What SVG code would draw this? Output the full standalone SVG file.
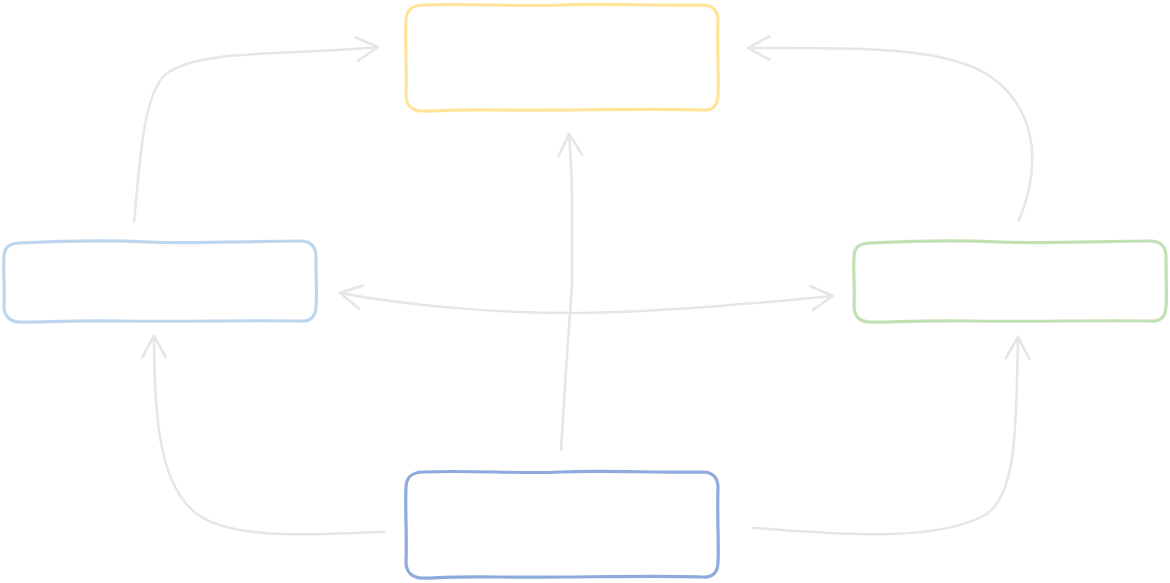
<svg xmlns="http://www.w3.org/2000/svg" width="1170" height="583" viewBox="0 0 1170 583">
  <style>
    .box { fill: #ffffff; stroke-width: 3.2; stroke-linejoin: round; }
    .edge { fill: none; stroke: #e6e6e6; stroke-width: 2.5; stroke-linecap: round; }
  </style>
  <defs>
    <marker id="open" markerUnits="userSpaceOnUse" markerWidth="30" markerHeight="30" viewBox="-24 -14 28 28" refX="0" refY="0" orient="auto-start-reverse">
      <path d="M -20 -11 L 0 0 L -20 11" fill="none" stroke="#e6e6e6" stroke-width="2.5" stroke-linecap="round" stroke-linejoin="round"/>
    </marker>
    <!-- hand-drawn wide box outline, 312 x 107 -->
    <path id="wide" d="M 17 1 C 64 -1 114 3 154 1 S 254 2 296 1 C 307 1 312 7 312 17 C 311 46 313 76 312 91 C 312 101 307 107 296 106 C 244 104 154 107 94 106 S 24 108 17 107 C 6 107 0 101 0 91 C 1 66 -1 36 0 17 C 0 7 6 1 17 1 Z"/>
    <!-- hand-drawn short box outline, 312 x 81 -->
    <path id="short" d="M 16 2 C 56 0 106 -1 146 1 S 246 0 296 0 C 307 0 312 6 312 16 C 312 39 313 59 312 65 C 312 75 307 81 296 80 C 246 79 176 81 116 80 S 36 82 16 81 C 6 81 0 75 0 65 C 1 49 -1 29 0 16 C 0 6 6 2 16 2 Z"/>
  </defs>

  <g id="connectors">
    <path class="edge" d="M 134 222 C 140 160 143 100 163 77 C 190 48 290 56 378 47" marker-end="url(#open)"/>
    <path class="edge" d="M 1019 220 C 1040 170 1038 118 1000 84 C 960 46 870 48 748 48" marker-end="url(#open)"/>
    <path class="edge" d="M 561 450 L 566 370 L 572 285 L 572 200 C 572 170 570 150 569 134" marker-end="url(#open)"/>
    <path class="edge" d="M 340 293 C 420 308 510 313 575 313 C 650 313 760 303 833 296" marker-start="url(#open)" marker-end="url(#open)"/>
    <path class="edge" d="M 384 532 C 330 533 240 542 200 516 C 160 490 154 420 154 336" marker-end="url(#open)"/>
    <path class="edge" d="M 753 528 C 820 532 930 545 985 515 C 1018 495 1016 420 1018 337" marker-end="url(#open)"/>
  </g>

  <g id="node-top">
    <use href="#wide" class="box" stroke="#ffe599" transform="translate(406,4)"/>
  </g>
  <g id="node-left">
    <use href="#short" class="box" stroke="#bcd6ee" transform="translate(4,241)"/>
  </g>
  <g id="node-right">
    <use href="#short" class="box" stroke="#c2e0b4" transform="translate(854,241)"/>
  </g>
  <g id="node-bottom">
    <use href="#wide" class="box" stroke="#8eaadc" transform="translate(406,471)"/>
  </g>
</svg>
